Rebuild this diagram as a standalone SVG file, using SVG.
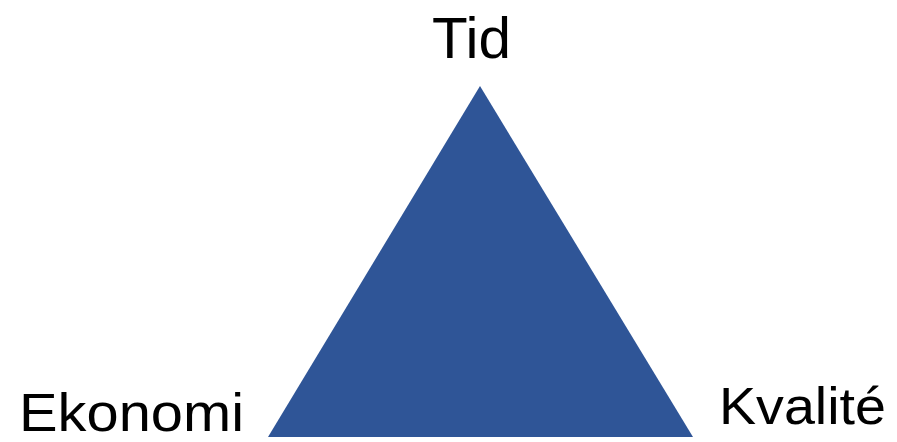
<svg xmlns="http://www.w3.org/2000/svg" width="897" height="442" viewBox="0 0 897 442">
<style>
.lbl{font-family:"Liberation Sans","Open Sans",Arial,sans-serif;fill:#000}
</style>
<rect width="897" height="442" fill="#fff"/>
<g id="triangle"><polygon points="480,86 268,437 693,437" fill="#2F5597"/></g>
<g id="tid"><text class="lbl" x="432" y="58" font-size="57" textLength="79" lengthAdjust="spacingAndGlyphs">Tid</text></g>
<g id="ekonomi"><text class="lbl" x="19" y="431" font-size="53" textLength="225" lengthAdjust="spacingAndGlyphs">Ekonomi</text></g>
<g id="kvalite"><text class="lbl" x="719" y="424" font-size="52" textLength="167" lengthAdjust="spacingAndGlyphs">Kvalité</text></g>
<g id="connectors"></g>
</svg>
